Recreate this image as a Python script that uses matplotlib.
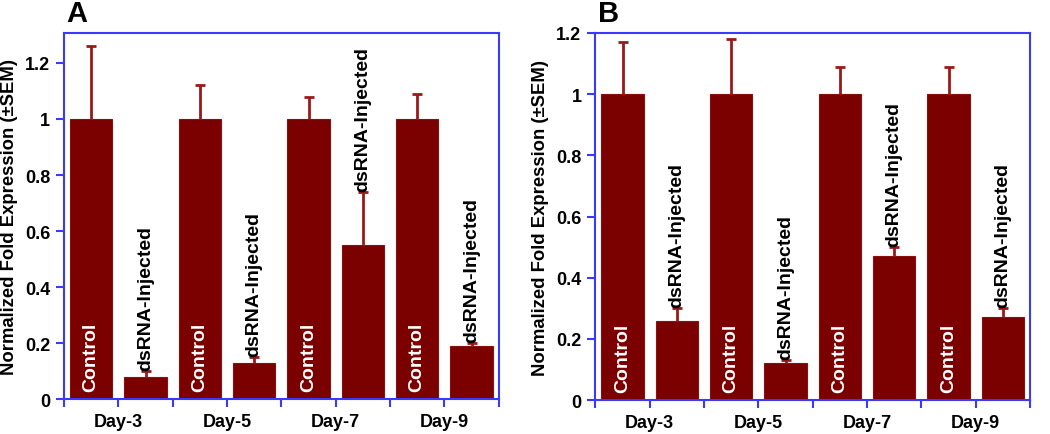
import matplotlib
matplotlib.use("Agg")
import matplotlib.pyplot as plt
import numpy as np

plt.rcParams['font.family'] = ['Liberation Sans', 'DejaVu Sans']
plt.rcParams['font.weight'] = 'bold'

days = ["Day-3", "Day-5", "Day-7", "Day-9"]

# panel A
a_control = [1.0, 1.0, 1.0, 1.0]
a_control_err = [0.26, 0.12, 0.08, 0.09]
a_dsrna = [0.08, 0.13, 0.55, 0.19]
a_dsrna_err = [0.02, 0.02, 0.19, 0.01]

# panel B
b_control = [1.0, 1.0, 1.0, 1.0]
b_control_err = [0.17, 0.18, 0.09, 0.09]
b_dsrna = [0.26, 0.12, 0.47, 0.27]
b_dsrna_err = [0.04, 0.01, 0.03, 0.03]

bar_color = "#7b0000"
err_color = "#9a1a1a"
spine_color = "#3a3aff"


def upper_err(ax, x, y, err):
    eb = ax.errorbar(x, y, yerr=[np.zeros(len(y)), err], fmt="none",
                     ecolor=err_color, elinewidth=2, capsize=3.5, capthick=2)
    # hide the lower caps, only the upper half is shown
    eb[1][0].set_visible(False)


def draw_panel(ax, control, control_err, dsrna, dsrna_err, ymax, letter):
    n = len(days)
    xc = np.arange(n) * 2
    xd = xc + 1
    w = 0.78
    ax.bar(xc, control, width=w, color=bar_color, edgecolor="#8a1010", linewidth=0.8)
    ax.bar(xd, dsrna, width=w, color=bar_color, edgecolor="#8a1010", linewidth=0.8)
    upper_err(ax, xc, control, control_err)
    upper_err(ax, xd, dsrna, dsrna_err)
    for i in range(n):
        ax.text(xc[i], 0.028, "Control", rotation=90, color="white",
                ha="center", va="bottom", fontsize=14, fontweight="bold")
        ax.text(xd[i], dsrna[i] + dsrna_err[i] + 0.004, "dsRNA-Injected",
                rotation=90, color="black", ha="center", va="bottom",
                fontsize=14, fontweight="bold")
    ax.set_xlim(-0.5, 2 * n - 0.5)
    ax.set_ylim(0, ymax)
    bounds = np.arange(-0.5, 2 * n, 1.0)
    ax.set_xticks(bounds)
    labels = []
    for b in bounds:
        k = int(round(b - 0.5))
        labels.append(days[k // 2] if k % 2 == 0 and 0 <= k // 2 < n else "")
    ax.set_xticklabels(labels, fontsize=13, fontweight="bold")
    yt = np.arange(0, 1.21, 0.2)
    ax.set_yticks(yt)
    ax.set_yticklabels(["%g" % round(v, 1) for v in yt], fontsize=13, fontweight="bold")
    ax.tick_params(axis="both", direction="out", length=6, width=1.5,
                   color=spine_color, pad=4)
    for s in ax.spines.values():
        s.set_color(spine_color)
        s.set_linewidth(1.5)
    ax.set_ylabel("Normalized Fold Expression (\u00b1SEM)", fontsize=13.3, fontweight="bold", labelpad=5)
    ax.text(0.005, 1.015, letter, transform=ax.transAxes, fontsize=21,
            fontweight="bold", ha="left", va="bottom")


fig = plt.figure(figsize=(10.5, 4.35), dpi=100)
ax1 = fig.add_axes([0.061, 0.080, 0.414, 0.842])
ax2 = fig.add_axes([0.567, 0.078, 0.414, 0.844])
draw_panel(ax1, a_control, a_control_err, a_dsrna, a_dsrna_err, 1.307, "A")
draw_panel(ax2, b_control, b_control_err, b_dsrna, b_dsrna_err, 1.2, "B")

plt.savefig("out.png", dpi=100)
